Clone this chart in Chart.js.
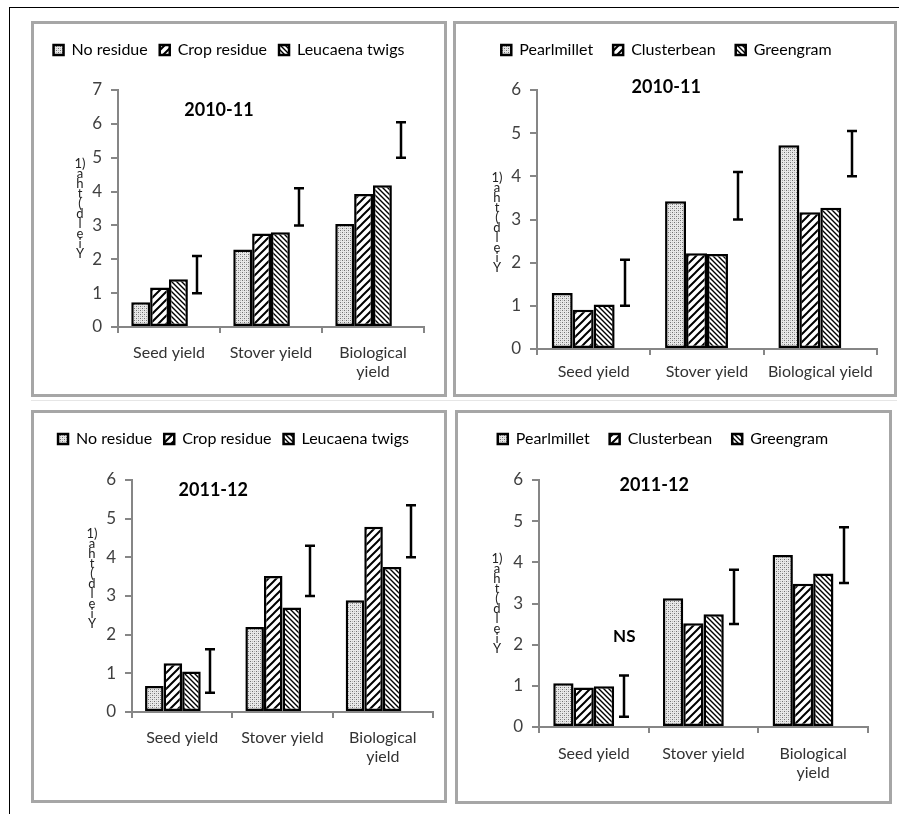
<!DOCTYPE html>
<html lang="en">
<head>
<meta charset="UTF-8">
<title>Yield charts</title>
<script src="https://cdn.jsdelivr.net/npm/chart.js@4.4.1/dist/chart.umd.min.js"></script>
<style>
  body { margin: 0; background: #fff; }
  #page { position: relative; width: 899px; height: 814px; overflow: hidden; }
  #frame { position: absolute; left: 9px; top: 7px; right: -2px; bottom: -2px;
           border-top: 1px solid #000; border-left: 1px solid #000; }
  #midline { position: absolute; left: 31px; top: 400px; width: 866px; height: 1px; background: #e6e6e6; }
  .panel { position: absolute; box-sizing: border-box; border: 3px solid #a6a6a6; background: #fff; }
  .panel canvas { display: block; }
</style>
</head>
<body>
<div id="page">
  <div id="frame"></div>
  <div id="midline"></div>
  <div class="panel" style="left:31px;top:21px;width:416px;height:376px"><canvas id="c1" width="410" height="370"></canvas></div>
  <div class="panel" style="left:453px;top:21px;width:444px;height:376px"><canvas id="c2" width="438" height="370"></canvas></div>
  <div class="panel" style="left:31px;top:410px;width:416px;height:393px"><canvas id="c3" width="410" height="387"></canvas></div>
  <div class="panel" style="left:455px;top:410px;width:437px;height:394px"><canvas id="c4" width="431" height="388"></canvas></div>
</div>
<script>
// categories
const catsTwoLine = ['Seed yield', 'Stover yield', ['Biological', 'yield']];
const catsOneLine = ['Seed yield', 'Stover yield', 'Biological yield'];
const residueLabels = ['No residue', 'Crop residue', 'Leucaena twigs'];
const cropLabels = ['Pearlmillet', 'Clusterbean', 'Greengram'];
const yTitle = ['Y', 'i', 'e', 'l', 'd', '(', 't', 'h', 'a', '1)'];

// 2010-11, residue treatments (t/ha)
const noResidue1011 = [0.73, 2.29, 3.04];
const cropResidue1011 = [1.17, 2.76, 3.93];
const leucaena1011 = [1.41, 2.80, 4.19];
const lsdResidue1011 = [[1.0, 2.1], [3.0, 4.1], [5.0, 6.05]];

// 2010-11, crops
const pearlmillet1011 = [1.30, 3.42, 4.72];
const clusterbean1011 = [0.91, 2.22, 3.17];
const greengram1011 = [1.03, 2.20, 3.27];
const lsdCrop1011 = [[1.0, 2.07], [3.0, 4.1], [4.0, 5.05]];

// 2011-12, residue treatments
const noResidue1112 = [0.67, 2.20, 2.89];
const cropResidue1112 = [1.26, 3.52, 4.79];
const leucaena1112 = [1.05, 2.70, 3.75];
const lsdResidue1112 = [[0.5, 1.62], [3.0, 4.3], [4.0, 5.35]];

// 2011-12, crops
const pearlmillet1112 = [1.06, 3.13, 4.18];
const clusterbean1112 = [0.96, 2.52, 3.48];
const greengram1112 = [0.99, 2.74, 3.73];
const lsdCrop1112 = [[0.25, 1.25], [2.5, 3.82], [3.5, 4.85]];

Chart.defaults.font.family = 'Lato, "Open Sans", sans-serif';
Chart.defaults.color = '#404040';

function makePattern(kind) {
  const c = document.createElement('canvas');
  const g = c.getContext('2d');
  if (kind === 'dots') {
    c.width = 4; c.height = 4;
    g.fillStyle = '#e8e8e8'; g.fillRect(0, 0, 4, 4);
    g.fillStyle = '#707070';
    g.fillRect(0, 0, 1, 1); g.fillRect(2, 2, 1, 1);
    g.fillStyle = '#b8b8b8';
    g.fillRect(2, 0, 1, 1); g.fillRect(0, 2, 1, 1);
  } else if (kind === 'fwd') {
    c.width = 8; c.height = 8;
    g.fillStyle = '#fff'; g.fillRect(0, 0, 8, 8);
    g.strokeStyle = '#000'; g.lineWidth = 2;
    g.beginPath();
    g.moveTo(-1, 9); g.lineTo(9, -1);
    g.moveTo(-1, 1); g.lineTo(1, -1);
    g.moveTo(7, 9); g.lineTo(9, 7);
    g.stroke();
  } else {
    c.width = 5; c.height = 5;
    g.fillStyle = '#fff'; g.fillRect(0, 0, 5, 5);
    g.strokeStyle = '#000'; g.lineWidth = 1.4;
    g.beginPath();
    g.moveTo(-1, -1); g.lineTo(6, 6);
    g.moveTo(-1, 4); g.lineTo(1, 6);
    g.moveTo(4, -1); g.lineTo(6, 1);
    g.stroke();
  }
  return c.getContext('2d').createPattern(c, 'repeat');
}
const fills = [makePattern('dots'), makePattern('fwd'), makePattern('back')];

// adds blank space under the legend
const legendGap = {
  id: 'legendGap',
  beforeInit(chart, args, opts) {
    const legend = chart.legend;
    if (!legend) return;
    const fit = legend.fit;
    legend.fit = function () { fit.call(this); this.height += opts.extra || 0; };
  }
};

// LSD bars drawn as I-beams on top of an invisible floating bar dataset
const lsdBars = {
  id: 'lsdBars',
  afterDatasetsDraw(chart, args, opts) {
    const ctx = chart.ctx;
    const ys = chart.scales.y;
    chart.data.datasets.forEach((ds, di) => {
      if (!ds.lsd) return;
      chart.getDatasetMeta(di).data.forEach((el, i) => {
        const lo = ys.getPixelForValue(ds.data[i][0]);
        const hi = ys.getPixelForValue(ds.data[i][1]);
        const x = Math.round(el.x);
        ctx.save();
        ctx.strokeStyle = '#000';
        ctx.lineWidth = 2.5;
        ctx.beginPath();
        ctx.moveTo(x, hi); ctx.lineTo(x, lo);
        ctx.moveTo(x - 5, hi); ctx.lineTo(x + 5, hi);
        ctx.moveTo(x - 5, lo); ctx.lineTo(x + 5, lo);
        ctx.stroke();
        ctx.restore();
      });
      if (opts.note) {
        const el = chart.getDatasetMeta(di).data[opts.note.index];
        ctx.save();
        ctx.fillStyle = '#000';
        ctx.font = 'bold 17px Lato, sans-serif';
        ctx.textAlign = 'center';
        ctx.textBaseline = 'middle';
        ctx.fillText(opts.note.text, el.x, ys.getPixelForValue(opts.note.value));
        ctx.restore();
      }
    });
  }
};

// year label inside the plot and the stacked y title
const panelText = {
  id: 'panelText',
  afterDraw(chart, args, opts) {
    const ctx = chart.ctx;
    const a = chart.chartArea;
    ctx.save();
    ctx.fillStyle = '#000';
    ctx.font = 'bold 18px Lato, sans-serif';
    ctx.textAlign = 'center';
    ctx.textBaseline = 'middle';
    ctx.fillText(opts.year, a.left + opts.yearX * (a.right - a.left), a.top + opts.yearDy);
    ctx.font = '13px Lato, sans-serif';
    ctx.fillStyle = '#222';
    const mid = (a.top + a.bottom) / 2 + opts.titleDy;
    const step = 10;
    const n = yTitle.length;
    yTitle.forEach((ch, i) => {
      ctx.fillText(ch, a.left - opts.titleDx, mid + (n - 1) * step / 2 - i * step);
    });
    ctx.restore();
  }
};

function buildChart(id, p) {
  const datasets = p.series.map((vals, i) => ({
    label: p.names[i],
    data: vals,
    backgroundColor: fills[i],
    borderColor: '#000',
    borderWidth: 2.5,
    borderSkipped: false,
    barPercentage: 1,
    categoryPercentage: 0.74
  }));
  datasets.push({
    label: 'LSD',
    lsd: true,
    data: p.lsd,
    backgroundColor: 'rgba(0,0,0,0)',
    borderWidth: 0,
    barPercentage: 1,
    categoryPercentage: 0.74
  });
  return new Chart(id, {
    type: 'bar',
    data: { labels: p.labels, datasets: datasets },
    options: {
      responsive: false,
      animation: false,
      devicePixelRatio: 1,
      layout: { padding: { top: p.padTop, left: 0, right: p.padRight, bottom: 0 } },
      plugins: {
        legend: {
          position: 'top',
          labels: {
            color: '#000',
            font: { size: 16 },
            boxWidth: 10,
            boxHeight: 10,
            padding: p.legendPad,
            filter: (item, data) => !data.datasets[item.datasetIndex].lsd
          }
        },
        tooltip: { enabled: false },
        legendGap: { extra: p.gap },
        lsdBars: { note: p.note },
        panelText: { year: p.year, yearX: p.yearX, yearDy: p.yearDy, titleDx: p.titleDx, titleDy: p.titleDy }
      },
      scales: {
        x: {
          grid: { display: true, drawOnChartArea: false, drawTicks: true, tickLength: 6, color: '#868686', lineWidth: 2 },
          border: { display: true, color: '#868686', width: 2 },
          ticks: { font: { size: 16 }, color: '#333', padding: p.xPad, maxRotation: 0, autoSkip: false },
          afterFit: s => { s.height = p.xHeight; }
        },
        y: {
          min: 0,
          max: p.yMax,
          ticks: { stepSize: 1, font: { size: 17 }, color: '#404040', padding: 9 },
          grid: { display: true, drawOnChartArea: false, drawTicks: true, tickLength: 7, color: '#868686', lineWidth: 2 },
          border: { display: true, color: '#868686', width: 2 },
          afterFit: s => { s.width = p.yWidth; }
        }
      }
    },
    plugins: [legendGap, lsdBars, panelText]
  });
}

buildChart('c1', {
  labels: catsTwoLine, names: residueLabels,
  series: [noResidue1011, cropResidue1011, leucaena1011], lsd: lsdResidue1011,
  yMax: 7, padTop: 6, gap: 22, legendPad: 12, padRight: 20, xHeight: 67, yWidth: 84, xPad: 10,
  year: '2010-11', yearX: 0.33, yearDy: 20, titleDx: 38, titleDy: 0
});
buildChart('c2', {
  labels: catsOneLine, names: cropLabels,
  series: [pearlmillet1011, clusterbean1011, greengram1011], lsd: lsdCrop1011,
  yMax: 6, padTop: -2, gap: 22, legendPad: 20, padRight: 17, xHeight: 45, yWidth: 81, xPad: 7,
  year: '2010-11', yearX: 0.38, yearDy: -3, titleDx: 40, titleDy: 3
});
buildChart('c3', {
  labels: catsTwoLine, names: residueLabels,
  series: [noResidue1112, cropResidue1112, leucaena1112], lsd: lsdResidue1112,
  yMax: 6, padTop: 6, gap: 23, legendPad: 12, padRight: 11, xHeight: 88, yWidth: 98, xPad: 10,
  year: '2011-12', yearX: 0.27, yearDy: 10, titleDx: 40, titleDy: -17
});
buildChart('c4', {
  labels: catsTwoLine, names: cropLabels,
  series: [pearlmillet1112, clusterbean1112, greengram1112], lsd: lsdCrop1112,
  yMax: 6, padTop: -2, gap: 23, legendPad: 20, padRight: 21, xHeight: 74, yWidth: 81, xPad: 11,
  year: '2011-12', yearX: 0.35, yearDy: 5, titleDx: 42, titleDy: 0,
  note: { text: 'NS', index: 0, value: 2.2 }
});
</script>
</body>
</html>
